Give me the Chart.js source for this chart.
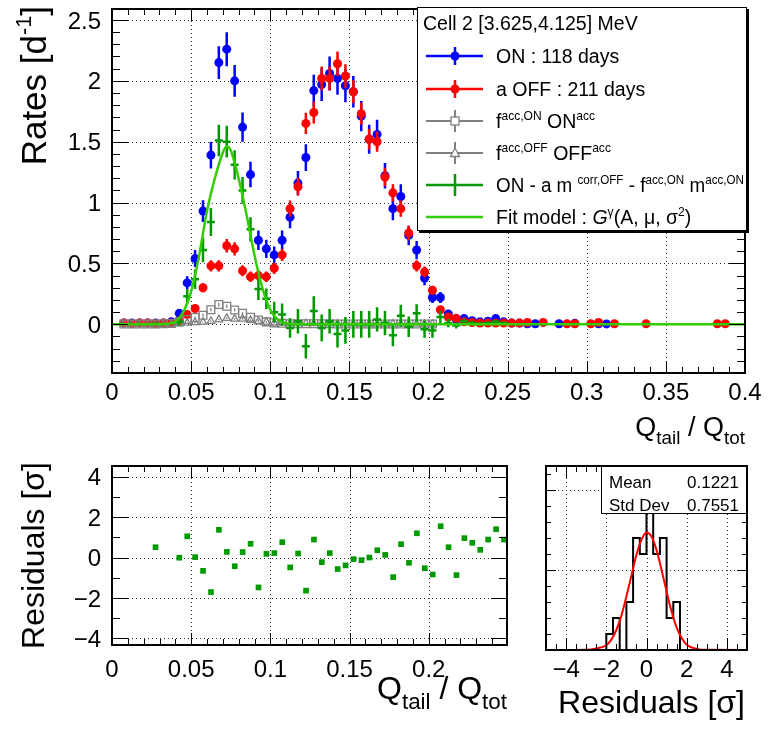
<!DOCTYPE html>
<html>
<head>
<meta charset="utf-8">
<script src="https://cdn.jsdelivr.net/npm/chart.js@4.4.1/dist/chart.umd.min.js"></script>
<style>
  body { margin: 0; background: #fff; }
  #wrap { position: relative; width: 771px; height: 733px; overflow: hidden; }
  canvas { position: absolute; }
</style>
</head>
<body>
<div id="wrap">
  <canvas id="mainChart" width="771" height="450" style="left:0;top:0"></canvas>
  <canvas id="resChart" width="520" height="283" style="left:0;top:450px"></canvas>
  <canvas id="histChart" width="251" height="283" style="left:520px;top:450px"></canvas>
</div>
<script>
// ---------- data ----------
// bin centres of Q_tail/Q_tot (bin width 0.005), bins 1..77
const qBins = [
  0.0075, 0.0125, 0.0175, 0.0225, 0.0275, 0.0325, 0.0375, 0.0425, 0.0475, 0.0525,
  0.0575, 0.0625, 0.0675, 0.0725, 0.0775, 0.0825, 0.0875, 0.0925, 0.0975, 0.1025,
  0.1075, 0.1125, 0.1175, 0.1225, 0.1275, 0.1325, 0.1375, 0.1425, 0.1475, 0.1525,
  0.1575, 0.1625, 0.1675, 0.1725, 0.1775, 0.1825, 0.1875, 0.1925, 0.1975, 0.2025,
  0.2075, 0.2125, 0.2175, 0.2225, 0.2275, 0.2325, 0.2375, 0.2425, 0.2475, 0.2525,
  0.2575, 0.2625, 0.2675, 0.2725, 0.2775, 0.2825, 0.2875, 0.2925, 0.2975, 0.3025,
  0.3075, 0.3125, 0.3175, 0.3225, 0.3275, 0.3325, 0.3375, 0.3425, 0.3475, 0.3525,
  0.3575, 0.3625, 0.3675, 0.3725, 0.3775, 0.3825, 0.3875
];
// ON : 118 days
const onRate = [
  0.01, 0.01, 0.01, 0.01, 0.01, 0.01, 0.02, 0.09, 0.34, 0.54,
  0.93, 1.39, 2.15, 2.26, 2.00, 1.62, 1.23, 0.69, 0.62, 0.57,
  0.69, 0.88, 1.16, 1.37, 1.92, 1.97, 2.06, 2.02, 1.96, 1.91,
  1.71, 1.52, 1.56, 1.22, 0.95, 1.05, 0.73, 0.61, 0.38, 0.22,
  0.22, 0.085, 0.04, 0.047, 0.03, 0.02, 0.025, 0.047, 0.02, 0.01,
  0.01, 0.005, 0.005, null, null, 0.005, null, 0.008, null, null,
  0.005, 0.003, null, null, null, null, null, null, null, null,
  null, null, null, null, null, null, null
];
const onErr = [
  0.01, 0.01, 0.01, 0.01, 0.01, 0.01, 0.015, 0.03, 0.055, 0.07,
  0.09, 0.11, 0.135, 0.14, 0.13, 0.12, 0.105, 0.08, 0.075, 0.07,
  0.08, 0.09, 0.10, 0.11, 0.13, 0.135, 0.14, 0.135, 0.135, 0.13,
  0.125, 0.12, 0.12, 0.105, 0.095, 0.10, 0.08, 0.075, 0.06, 0.045,
  0.045, 0.03, 0.02, 0.02, 0.017, 0.014, 0.015, 0.02, 0.014, 0.01,
  0.01, 0.007, 0.007, 0, 0, 0.007, 0, 0.008, 0, 0,
  0.007, 0.005, 0, 0, 0, 0, 0, 0, 0, 0,
  0, 0, 0, 0, 0, 0, 0
];
// a OFF : 211 days
const offRate = [
  0.01, 0.005, 0.01, 0.01, 0.005, 0.01, 0.01, 0.03, 0.08, 0.13,
  0.30, 0.48, 0.48, 0.645, 0.62, 0.44, 0.39, 0.40, 0.39, 0.46,
  0.57, 0.95, 1.13, 1.65, 1.74, 2.02, 2.02, 2.14, 2.04, 1.91,
  1.73, 1.52, 1.50, 1.21, 1.08, 0.95, 0.75, 0.48, 0.43, 0.28,
  0.12, 0.06, 0.05, 0.02, 0.015, 0.01, 0.01, 0.01, 0.01, 0.01,
  0.01, 0.015, null, 0.015, null, null, 0.005, 0.005, null, 0.005,
  0.015, null, 0.005, null, null, null, 0.005, null, null, null,
  null, null, null, null, null, 0.005, 0.005
];
const offErr = [
  0.008, 0.006, 0.008, 0.008, 0.006, 0.008, 0.008, 0.012, 0.02, 0.025,
  0.037, 0.047, 0.047, 0.055, 0.054, 0.045, 0.043, 0.043, 0.043, 0.046,
  0.051, 0.066, 0.072, 0.087, 0.09, 0.097, 0.097, 0.10, 0.097, 0.094,
  0.09, 0.084, 0.083, 0.075, 0.071, 0.066, 0.059, 0.047, 0.045, 0.036,
  0.024, 0.017, 0.015, 0.01, 0.008, 0.007, 0.007, 0.007, 0.007, 0.007,
  0.007, 0.008, 0, 0.008, 0, 0, 0.005, 0.005, 0, 0.005,
  0.008, 0, 0.005, 0, 0, 0, 0.005, 0, 0, 0,
  0, 0, 0, 0, 0, 0.005, 0.005
];
// f^{acc,ON} ON^{acc} (bins 1..40)
const accOnRate = [
  0.003, 0.003, 0.003, 0.003, 0.003, 0.004, 0.006, 0.02, 0.04, 0.055,
  0.075, 0.12, 0.162, 0.148, 0.118, 0.09, 0.058, 0.035, 0.02, 0.012,
  0.008, 0.005, 0.005, 0.005, 0.004, 0.004, 0.004, 0.003, 0.003, 0.003,
  0.003, 0.003, 0.003, 0.003, 0.002, 0.002, 0.002, 0.002, 0.002, 0.002
];
const accOnErr = [
  0.003, 0.003, 0.003, 0.003, 0.003, 0.003, 0.003, 0.006, 0.008, 0.009,
  0.011, 0.013, 0.015, 0.015, 0.013, 0.011, 0.009, 0.007, 0.005, 0.004,
  0.003, 0.003, 0.003, 0.003, 0.003, 0.003, 0.003, 0.003, 0.003, 0.003,
  0.003, 0.003, 0.003, 0.003, 0.003, 0.003, 0.003, 0.003, 0.003, 0.003
];
// f^{acc,OFF} OFF^{acc} (bins 1..40)
const accOffRate = [
  0.002, 0.002, 0.002, 0.002, 0.002, 0.002, 0.003, 0.006, 0.011, 0.016,
  0.019, 0.025, 0.038, 0.05, 0.044, 0.044, 0.033, 0.025, 0.019, 0.011,
  0.011, 0.008, 0.007, 0.006, 0.006, 0.005, 0.005, 0.004, 0.004, 0.004,
  0.003, 0.003, 0.003, 0.003, 0.003, 0.002, 0.002, 0.002, 0.002, 0.002
];
const accOffErr = [
  0.002, 0.002, 0.002, 0.002, 0.002, 0.002, 0.002, 0.003, 0.004, 0.005,
  0.005, 0.006, 0.007, 0.007, 0.007, 0.007, 0.006, 0.005, 0.005, 0.004,
  0.004, 0.003, 0.003, 0.003, 0.003, 0.003, 0.003, 0.002, 0.002, 0.002,
  0.002, 0.002, 0.002, 0.002, 0.002, 0.002, 0.002, 0.002, 0.002, 0.002
];
// ON - a m^{corr,OFF} - f^{acc,ON} m^{acc,ON} (bins 1..49)
const subRate = [
  null, null, null, null, 0.005, null, null, 0.02, 0.23, 0.37,
  0.61, 0.84, 1.51, 1.50, 1.31, 1.10, 0.78, 0.29, 0.21, 0.10,
  0.08, -0.03, 0.025, -0.18, 0.11, -0.03, 0.025, -0.08, -0.05, 0.0,
  0.0, 0.0, 0.04, 0.01, -0.09, 0.07, -0.02, 0.09, -0.04, -0.05,
  0.06, 0.01, -0.01, 0.025, 0.01, 0.005, 0.01, 0.02, 0.01
];
const subErr = [
  0, 0, 0, 0, 0.01, 0, 0, 0.03, 0.06, 0.08,
  0.10, 0.115, 0.13, 0.13, 0.12, 0.11, 0.10, 0.09, 0.085, 0.085,
  0.09, 0.08, 0.10, 0.10, 0.12, 0.11, 0.10, 0.11, 0.11, 0.11,
  0.11, 0.11, 0.10, 0.10, 0.09, 0.09, 0.085, 0.075, 0.07, 0.06,
  0.05, 0.035, 0.025, 0.02, 0.02, 0.015, 0.015, 0.02, 0.015
];
// fit model G^gamma(A, mu, sigma^2)
const fitX = [0, 0.03, 0.035, 0.04, 0.045, 0.05, 0.055, 0.06, 0.065, 0.07, 0.0725, 0.075,
              0.08, 0.085, 0.09, 0.095, 0.1, 0.105, 0.11, 0.115, 0.4];
const fitY = [0, 0, 0.004, 0.02, 0.1, 0.27, 0.56, 0.93, 1.2, 1.41, 1.46, 1.43,
              1.2, 0.9, 0.57, 0.3, 0.12, 0.035, 0.008, 0, 0];

// residuals [sigma]
const resX = [
  0.0275, 0.0425, 0.0475, 0.0525, 0.0575, 0.0625, 0.0675, 0.0725, 0.0775, 0.0825,
  0.0875, 0.0925, 0.0975, 0.1025, 0.1075, 0.1125, 0.1175, 0.1225, 0.1275, 0.1325,
  0.1375, 0.1425, 0.1475, 0.1525, 0.1575, 0.1625, 0.1675, 0.1725, 0.1775, 0.1825,
  0.1875, 0.1925, 0.1975, 0.2025, 0.2075, 0.2125, 0.2175, 0.2225, 0.2275, 0.2325,
  0.2375, 0.2425, 0.2475
];
const resVal = [
  0.51, -0.01, 1.05, 0.02, -0.66, -1.71, 1.37, 0.28, -0.43, 0.27,
  0.68, -1.48, 0.18, 0.22, 0.76, -0.49, 0.20, -1.64, 0.89, -0.23,
  0.22, -0.57, -0.39, -0.08, -0.13, 0.0, 0.36, 0.13, -0.97, 0.66,
  -0.26, 1.20, -0.53, -0.84, 1.55, 0.51, -0.87, 0.96, 0.73, 0.38,
  0.89, 1.40, 0.89
];

// residual distribution
const histEdges = [-5, -4.667, -4.333, -4, -3.667, -3.333, -3, -2.667, -2.333, -2,
  -1.667, -1.333, -1, -0.667, -0.333, 0, 0.333, 0.667, 1, 1.333,
  1.667, 2, 2.333, 2.667, 3, 3.333, 3.667, 4, 4.333, 4.667, 5];
const histCounts = [0, 0, 0, 0, 0, 0, 0, 0, 0, 1,
  2, 0, 3, 7, 6, 9, 6, 7, 2, 3,
  0, 0, 0, 0, 0, 0, 0, 0, 0, 0];
const gausX = [-5, -3, -2.5, -2, -1.75, -1.5, -1.25, -1, -0.75, -0.5, -0.25, 0,
               0.25, 0.5, 0.75, 1, 1.25, 1.5, 1.75, 2, 2.5, 3, 5];
const gausY = [0, 0.02, 0.1, 0.3, 0.65, 1.25, 2.15, 3.35, 4.65, 5.95, 6.9, 7.35,
               7.1, 6.25, 5.0, 3.65, 2.4, 1.4, 0.75, 0.33, 0.07, 0.01, 0];
const histMean = '0.1221';
const histStdDev = '0.7551';

// tick labels
const mainXTicks = [0, 0.05, 0.1, 0.15, 0.2, 0.25, 0.3, 0.35, 0.4];
const mainXLabels = ['0', '0.05', '0.1', '0.15', '0.2', '0.25', '0.3', '0.35', '0.4'];
const mainYTicks = [0, 0.5, 1, 1.5, 2, 2.5];
const mainYLabels = ['0', '0.5', '1', '1.5', '2', '2.5'];
const resXTicks = [0, 0.05, 0.1, 0.15, 0.2];
const resXLabels = ['0', '0.05', '0.1', '0.15', '0.2'];
const resYTicks = [-4, -2, 0, 2, 4];
const resYLabels = ['\u22124', '\u22122', '0', '2', '4'];
const histXTicks = [-4, -2, 0, 2, 4];
const histXLabels = ['\u22124', '\u22122', '0', '2', '4'];
const histYTicks = [5, 10];

// ---------- drawing helpers ----------
const FONT = '"Liberation Sans", Arial, Helvetica, sans-serif';
const T = (t, k, i) => ({ t: t, k: k || 0, i: !!i });

function setFont(ctx, size, italic) {
  ctx.font = (italic ? 'italic ' : '') + size + 'px ' + FONT;
}
function partSize(p, size) { return p.k > 0 ? size * 0.62 : p.k < 0 ? size * 0.7 : size; }
function richWidth(ctx, parts, size) {
  let w = 0;
  parts.forEach(p => { setFont(ctx, partSize(p, size), p.i); w += ctx.measureText(p.t).width; });
  return w;
}
function drawRich(ctx, parts, x, y, size, align) {
  let cx = x;
  if (align === 'right') cx = x - richWidth(ctx, parts, size);
  if (align === 'center') cx = x - richWidth(ctx, parts, size) / 2;
  ctx.textAlign = 'left';
  ctx.textBaseline = 'alphabetic';
  parts.forEach(p => {
    const dy = p.k > 0 ? -0.42 * size : p.k < 0 ? 0.3 * size : 0;
    setFont(ctx, partSize(p, size), p.i);
    ctx.fillText(p.t, cx, y + dy);
    cx += ctx.measureText(p.t).width;
  });
}
function steps(from, to, step) {
  const out = [];
  const n = Math.round((to - from) / step);
  for (let i = 0; i <= n; i++) out.push(from + i * step);
  return out;
}
function pts(xs, ys, es) {
  return xs.map((x, i) => ({ x: x, y: ys[i] === undefined ? null : ys[i], e: es ? es[i] : 0 }))
           .filter(p => p.y !== null);
}

// vertical (and optional horizontal) error bars, drawn under the markers
const errorBars = {
  id: 'errorBars',
  beforeDatasetDraw(chart, args) {
    const ds = chart.data.datasets[args.index];
    if (!ds.errColor) return;
    const { ctx, chartArea: a } = chart;
    const xs = chart.scales.x, ys = chart.scales.y;
    ctx.save();
    ctx.beginPath();
    ctx.rect(a.left, a.top, a.right - a.left, a.bottom - a.top);
    ctx.clip();
    ctx.strokeStyle = ds.errColor;
    ctx.lineWidth = ds.errWidth;
    ctx.beginPath();
    ds.data.forEach(p => {
      const px = xs.getPixelForValue(p.x);
      if (p.e > 0) {
        ctx.moveTo(px, ys.getPixelForValue(p.y - p.e));
        ctx.lineTo(px, ys.getPixelForValue(p.y + p.e));
      }
      if (ds.errX) {
        const py = ys.getPixelForValue(p.y);
        ctx.moveTo(xs.getPixelForValue(p.x - ds.errX), py);
        ctx.lineTo(xs.getPixelForValue(p.x + ds.errX), py);
      }
    });
    ctx.stroke();
    ctx.restore();
  }
};

// ROOT-like frame: dotted grid, inside ticks on all sides, labels and titles
function rootStyle(cfg) {
  return {
    id: 'rootStyle',
    beforeDatasetsDraw(chart) {
      const { ctx, chartArea: a } = chart;
      const xs = chart.scales.x, ys = chart.scales.y;
      ctx.save();
      ctx.strokeStyle = '#333';
      ctx.lineWidth = 1;
      ctx.setLineDash([1, 3]);
      ctx.beginPath();
      cfg.xGrid.forEach(v => {
        const px = Math.round(xs.getPixelForValue(v)) + 0.5;
        if (px < a.left + 3 || px > a.right - 3) return;
        ctx.moveTo(px, a.top); ctx.lineTo(px, a.bottom);
      });
      cfg.yGrid.forEach(v => {
        const py = Math.round(ys.getPixelForValue(v)) + 0.5;
        if (py < a.top + 3 || py > a.bottom - 3) return;
        ctx.moveTo(a.left, py); ctx.lineTo(a.right, py);
      });
      ctx.stroke();
      ctx.restore();
    },
    afterDatasetsDraw(chart) {
      const { ctx, chartArea: a } = chart;
      const xs = chart.scales.x, ys = chart.scales.y;
      ctx.save();
      ctx.strokeStyle = '#000';
      ctx.lineWidth = 1;
      ctx.beginPath();
      const xt = (v, len) => {
        const px = Math.round(xs.getPixelForValue(v)) + 0.5;
        if (px < a.left - 1 || px > a.right + 1) return;
        ctx.moveTo(px, a.bottom); ctx.lineTo(px, a.bottom - len);
        ctx.moveTo(px, a.top); ctx.lineTo(px, a.top + len);
      };
      const yt = (v, len) => {
        const py = Math.round(ys.getPixelForValue(v)) + 0.5;
        if (py < a.top - 1 || py > a.bottom + 1) return;
        ctx.moveTo(a.left, py); ctx.lineTo(a.left + len, py);
        ctx.moveTo(a.right, py); ctx.lineTo(a.right - len, py);
      };
      steps(cfg.xMinor[0], cfg.xMinor[1], cfg.xMinor[2]).forEach(v => xt(v, cfg.xLen[1]));
      cfg.xMajor.forEach(v => xt(v, cfg.xLen[0]));
      steps(cfg.yMinor[0], cfg.yMinor[1], cfg.yMinor[2]).forEach(v => yt(v, cfg.yLen[1]));
      cfg.yMajor.forEach(v => yt(v, cfg.yLen[0]));
      ctx.stroke();
      ctx.lineWidth = 2;
      ctx.strokeRect(a.left, a.top, a.right - a.left, a.bottom - a.top);

      ctx.fillStyle = '#000';
      setFont(ctx, cfg.labelSize);
      ctx.textBaseline = 'alphabetic';
      ctx.textAlign = 'center';
      cfg.xMajor.forEach((v, i) => {
        if (cfg.xLabels) ctx.fillText(cfg.xLabels[i], xs.getPixelForValue(v), cfg.xLabelY);
      });
      ctx.textAlign = 'right';
      if (cfg.yLabels) {
        cfg.yMajor.forEach((v, i) => {
          ctx.fillText(cfg.yLabels[i], cfg.yLabelX, ys.getPixelForValue(v) + cfg.labelSize * 0.36);
        });
      }
      if (cfg.xTitle) drawRich(ctx, cfg.xTitle, cfg.xTitlePos[0], cfg.xTitlePos[1], cfg.xTitleSize, 'right');
      if (cfg.yTitle) {
        ctx.save();
        ctx.translate(cfg.yTitlePos[0], cfg.yTitlePos[1]);
        ctx.rotate(-Math.PI / 2);
        drawRich(ctx, cfg.yTitle, 0, 0, cfg.yTitleSize, 'right');
        ctx.restore();
      }
      ctx.restore();
    },
    afterDraw(chart) {
      if (cfg.extra) cfg.extra(chart);
    }
  };
}

function legendMarker(ctx, x, y, kind, color) {
  ctx.save();
  ctx.strokeStyle = color;
  ctx.fillStyle = color;
  if (kind === 'circle') {
    ctx.beginPath(); ctx.arc(x, y, 4.5, 0, Math.PI * 2); ctx.fill();
  } else if (kind === 'square') {
    ctx.fillStyle = '#fff'; ctx.lineWidth = 1.3;
    ctx.fillRect(x - 4, y - 4, 8, 8); ctx.strokeRect(x - 4, y - 4, 8, 8);
  } else if (kind === 'triangle') {
    ctx.fillStyle = '#fff'; ctx.lineWidth = 1.3;
    ctx.beginPath(); ctx.moveTo(x, y - 5); ctx.lineTo(x + 4.5, y + 3.5); ctx.lineTo(x - 4.5, y + 3.5); ctx.closePath();
    ctx.fill(); ctx.stroke();
  }
  ctx.restore();
}

function drawLegend(chart) {
  const ctx = chart.ctx;
  const L = 417, Tp = 7, R = 747, B = 231;
  ctx.save();
  ctx.fillStyle = '#000';
  ctx.fillRect(L + 2, Tp + 2, R - L, B - Tp);
  ctx.fillStyle = '#fff';
  ctx.fillRect(L, Tp, R - L, B - Tp);
  ctx.strokeStyle = '#000';
  ctx.lineWidth = 1;
  ctx.strokeRect(L + 0.5, Tp + 0.5, R - L - 1, B - Tp - 1);
  ctx.fillStyle = '#000';
  const size = 19.5;
  drawRich(ctx, [T('Cell 2 [3.625,4.125] MeV')], 423, 30, size, 'left');
  const rows = [
    { y: 56, color: '#0000ff', w: 2.5, bar: 9, mk: 'circle', text: [T('ON : 118 days')] },
    { y: 89, color: '#ff0000', w: 2.5, bar: 9, mk: 'circle', text: [T('a OFF : 211 days')] },
    { y: 121, color: '#808080', w: 2, bar: 11, mk: 'square', text: [T('f'), T('acc,ON', 1), T(' ON'), T('acc', 1)] },
    { y: 153, color: '#808080', w: 2, bar: 11, mk: 'triangle', text: [T('f'), T('acc,OFF', 1), T(' OFF'), T('acc', 1)] },
    { y: 185, color: '#009900', w: 2.5, bar: 11, mk: null,
      text: [T('ON - a m '), T('corr,OFF', 1), T(' - f'), T('acc,ON', 1), T(' m'), T('acc,ON', 1)] },
    { y: 217, color: '#33cc00', w: 2.5, bar: 0, mk: null,
      text: [T('Fit model : '), T('G', 0, true), T('\u03b3', 1), T('(A, \u03bc, \u03c3'), T('2', 1), T(')')] }
  ];
  rows.forEach(r => {
    ctx.strokeStyle = r.color;
    ctx.lineWidth = r.w;
    ctx.beginPath();
    ctx.moveTo(426, r.y); ctx.lineTo(483, r.y);
    if (r.bar) { ctx.moveTo(455, r.y - r.bar); ctx.lineTo(455, r.y + r.bar); }
    ctx.stroke();
    if (r.mk) legendMarker(ctx, 455, r.y, r.mk, r.color);
    ctx.fillStyle = '#000';
    const w = richWidth(ctx, r.text, size);
    if (496 + w > R - 3) {
      ctx.save();
      ctx.translate(496, 0);
      ctx.scale((R - 3 - 496) / w, 1);
      drawRich(ctx, r.text, 0, r.y + 7, size, 'left');
      ctx.restore();
    } else {
      drawRich(ctx, r.text, 496, r.y + 7, size, 'left');
    }
  });
  ctx.restore();
}

function drawStats(chart) {
  const ctx = chart.ctx;
  const L = 81, Tp = 16, R = 227, B = 64;
  ctx.save();
  ctx.fillStyle = '#fff';
  ctx.fillRect(L, Tp, R - L, B - Tp);
  ctx.strokeStyle = '#000';
  ctx.lineWidth = 1;
  ctx.strokeRect(L + 0.5, Tp + 0.5, R - L - 1, B - Tp - 1);
  ctx.fillStyle = '#000';
  setFont(ctx, 17);
  ctx.textBaseline = 'alphabetic';
  ctx.textAlign = 'left';
  ctx.fillText('Mean', 89, 38);
  ctx.fillText('Std Dev', 89, 61);
  ctx.textAlign = 'right';
  ctx.fillText(histMean, 219, 38);
  ctx.fillText(histStdDev, 219, 61);
  ctx.restore();
}

const baseOpts = (pad, xr, yr) => ({
  responsive: false,
  animation: false,
  events: [],
  layout: { padding: pad },
  plugins: { legend: { display: false }, tooltip: { enabled: false } },
  scales: {
    x: { type: 'linear', min: xr[0], max: xr[1], display: false },
    y: { type: 'linear', min: yr[0], max: yr[1], display: false }
  }
});

// ---------- main panel ----------
const mainOpts = baseOpts({ left: 112, right: 26, top: 9, bottom: 77 }, [0, 0.4], [-0.4, 2.59]);
new Chart(document.getElementById('mainChart'), {
  type: 'scatter',
  data: {
    datasets: [
      { data: pts(qBins, onRate, onErr), pointStyle: 'circle', pointRadius: 4.5, borderWidth: 0,
        backgroundColor: '#0000ff', errColor: '#0000ff', errWidth: 2.5, order: 6 },
      { data: pts(qBins, offRate, offErr), pointStyle: 'circle', pointRadius: 4.5, borderWidth: 0,
        backgroundColor: '#ff0000', errColor: '#ff0000', errWidth: 2.5, order: 5 },
      { data: pts(qBins, accOnRate, accOnErr), pointStyle: 'rect', pointRadius: 5.5, borderWidth: 1.3,
        borderColor: '#808080', backgroundColor: 'rgba(0,0,0,0)', errColor: '#808080', errWidth: 1.3, order: 4 },
      { data: pts(qBins, accOffRate, accOffErr), pointStyle: 'triangle', pointRadius: 4.3, borderWidth: 1.3,
        borderColor: '#808080', backgroundColor: 'rgba(0,0,0,0)', errColor: '#808080', errWidth: 1.3, order: 3 },
      { data: pts(qBins, subRate, subErr), pointRadius: 0, errColor: '#009900', errWidth: 2.5, errX: 0.0025, order: 2 },
      { data: fitX.map((x, i) => ({ x: x, y: fitY[i] })), showLine: true, pointRadius: 0, borderColor: '#33cc00',
        borderWidth: 2.5, cubicInterpolationMode: 'monotone', order: 1 }
    ]
  },
  options: mainOpts,
  plugins: [errorBars, rootStyle({
    xGrid: mainXTicks, yGrid: mainYTicks,
    xMajor: mainXTicks, xMinor: [0, 0.4, 0.01], xLen: [12, 6],
    yMajor: mainYTicks, yMinor: [-0.4, 2.5, 0.1], yLen: [16, 8],
    xLabels: mainXLabels, yLabels: mainYLabels, labelSize: 24, xLabelY: 400, yLabelX: 101,
    xTitleSize: 27, yTitleSize: 35,
    xTitle: [T('Q'), T('tail', -1), T(' / Q'), T('tot', -1)], xTitlePos: [745, 436],
    yTitle: [T('Rates [d'), T('-1', 1), T(']')], yTitlePos: [46, 6],
    extra: drawLegend
  })]
});

// ---------- residuals vs Q ----------
new Chart(document.getElementById('resChart'), {
  type: 'scatter',
  data: {
    datasets: [
      { data: resX.map((x, i) => ({ x: x, y: resVal[i] })), pointStyle: 'rect', pointRadius: 4,
        borderWidth: 0, backgroundColor: '#009900' }
    ]
  },
  options: baseOpts({ left: 112, right: 13, top: 16, bottom: 88 }, [0, 0.2494], [-4.33, 4.53]),
  plugins: [rootStyle({
    xGrid: resXTicks, yGrid: resYTicks,
    xMajor: resXTicks, xMinor: [0, 0.24, 0.01], xLen: [12, 6],
    yMajor: resYTicks, yMinor: [-4, 4, 1], yLen: [16, 8],
    xLabels: resXLabels, yLabels: resYLabels, labelSize: 24, xLabelY: 227, yLabelX: 101,
    xTitleSize: 32, yTitleSize: 32,
    xTitle: [T('Q'), T('tail', -1), T(' / Q'), T('tot', -1)], xTitlePos: [507, 249],
    yTitle: [T('Residuals [\u03c3]')], yTitlePos: [44, 12]
  })]
});

// ---------- residual distribution ----------
const histSteps = histCounts.map((c, i) => ({ x: histEdges[i], y: c }));
histSteps.push({ x: histEdges[histEdges.length - 1], y: 0 });
new Chart(document.getElementById('histChart'), {
  type: 'scatter',
  data: {
    datasets: [
      { data: histSteps, showLine: true, stepped: 'before', pointRadius: 0, borderColor: '#000',
        borderWidth: 2, order: 2 },
      { data: gausX.map((x, i) => ({ x: x, y: gausY[i] })), showLine: true, pointRadius: 0,
        borderColor: '#ff0000', borderWidth: 2, cubicInterpolationMode: 'monotone', order: 1 }
    ]
  },
  options: baseOpts({ left: 26, right: 24, top: 16, bottom: 83 }, [-5, 5], [0, 11.5]),
  plugins: [rootStyle({
    xGrid: histXTicks, yGrid: histYTicks,
    xMajor: histXTicks, xMinor: [-5, 5, 0.5], xLen: [12, 6],
    yMajor: histYTicks, yMinor: [0, 11, 1], yLen: [10, 5],
    xLabels: histXLabels, yLabels: null, labelSize: 24, xLabelY: 227,
    xTitleSize: 32, yTitleSize: 32,
    xTitle: [T('Residuals [\u03c3]')], xTitlePos: [225, 263],
    extra: drawStats
  })]
});
</script>
</body>
</html>
